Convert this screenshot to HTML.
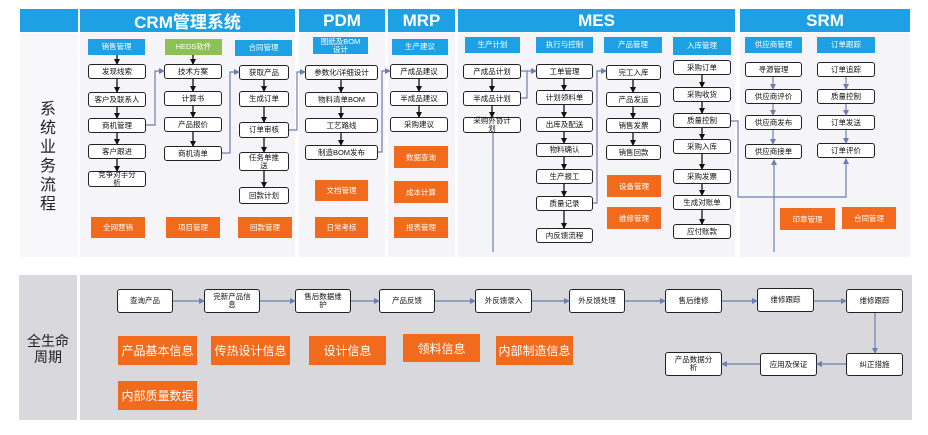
<!DOCTYPE html>
<html><head><meta charset="utf-8">
<style>
*{margin:0;padding:0;box-sizing:border-box}
body{width:928px;height:435px;background:#fff;position:relative;overflow:hidden;font-family:"Liberation Sans","Noto Sans CJK SC",sans-serif}
div{position:absolute}
.hd{background:#1da1e4;color:#fff;font-weight:bold;font-size:17px;display:flex;align-items:center;justify-content:center;top:9px;height:23px}
.col{background:#f5f4f8;top:33px;height:224px}
.h{background:#1da1e4;color:#fff;font-size:7.5px;display:flex;align-items:center;justify-content:center;text-align:center;line-height:8px}
.b{background:#fff;border:1px solid #222;border-radius:3px;font-size:7.5px;display:flex;align-items:center;justify-content:center;text-align:center;line-height:8px;color:#111}
.o{background:#f26b1d;color:#fff;font-size:7.5px;display:flex;align-items:center;justify-content:center}
.o2{background:#f26b1d;color:#fff;font-size:12px;display:flex;align-items:center;justify-content:center}
.lab{font-size:15px;color:#222;text-align:center;line-height:18px}
svg{position:absolute;left:0;top:0}
</style></head><body>
<!-- top panel -->
<div style="left:20px;top:9px;width:58px;height:23px;background:#1da1e4"></div>
<div class="hd" style="left:80px;width:215px">CRM管理系统</div>
<div class="hd" style="left:299px;width:86px">PDM</div>
<div class="hd" style="left:388px;width:67px">MRP</div>
<div class="hd" style="left:458px;width:277px">MES</div>
<div class="hd" style="left:740px;width:170px">SRM</div>
<div class="col" style="left:20px;width:58px;background:#f8f8fa"></div>
<div class="col" style="left:80px;width:215px"></div>
<div class="col" style="left:299px;width:86px"></div>
<div class="col" style="left:388px;width:67px"></div>
<div class="col" style="left:458px;width:277px"></div>
<div class="col" style="left:740px;width:170px"></div>
<div class="lab" style="left:38px;top:100px;width:20px;font-size:16px;line-height:19px">系<br>统<br>业<br>务<br>流<br>程</div>

<!-- CRM -->
<div class="h" style="left:88px;top:39px;width:57px;height:16px">销售管理</div>
<div class="h" style="left:165px;top:39px;width:57px;height:16px;background:#8dc153">HEDS软件</div>
<div class="h" style="left:235px;top:40px;width:57px;height:16px">合同管理</div>
<div class="b" style="left:88px;top:64px;width:58px;height:15px">发现线索</div>
<div class="b" style="left:88px;top:92px;width:58px;height:15px">客户及联系人</div>
<div class="b" style="left:88px;top:118px;width:58px;height:15px">商机管理</div>
<div class="b" style="left:88px;top:144px;width:58px;height:15px">客户跟进</div>
<div class="b" style="left:88px;top:171px;width:58px;height:16px">竞争对手分<br>析</div>
<div class="b" style="left:164px;top:64px;width:58px;height:15px">技术方案</div>
<div class="b" style="left:164px;top:91px;width:58px;height:15px">计算书</div>
<div class="b" style="left:164px;top:117px;width:58px;height:15px">产品报价</div>
<div class="b" style="left:164px;top:146px;width:58px;height:15px">商机清单</div>
<div class="b" style="left:239px;top:65px;width:50px;height:15px">获取产品</div>
<div class="b" style="left:239px;top:91px;width:50px;height:16px">生成订单</div>
<div class="b" style="left:239px;top:122px;width:50px;height:16px">订单审核</div>
<div class="b" style="left:239px;top:152px;width:50px;height:19px">任务单推<br>送</div>
<div class="b" style="left:239px;top:187px;width:50px;height:17px">回款计划</div>
<div class="o" style="left:91px;top:217px;width:54px;height:21px">全网营销</div>
<div class="o" style="left:166px;top:217px;width:54px;height:21px">项目管理</div>
<div class="o" style="left:238px;top:217px;width:54px;height:21px">回款管理</div>

<!-- PDM -->
<div class="h" style="left:313px;top:37px;width:55px;height:17px">图纸及BOM<br>设计</div>
<div class="b" style="left:305px;top:65px;width:73px;height:15px">参数化/详细设计</div>
<div class="b" style="left:305px;top:92px;width:73px;height:15px">物料清单BOM</div>
<div class="b" style="left:305px;top:118px;width:73px;height:15px">工艺路线</div>
<div class="b" style="left:305px;top:145px;width:73px;height:15px">制造BOM发布</div>
<div class="o" style="left:315px;top:180px;width:53px;height:21px">文档管理</div>
<div class="o" style="left:315px;top:217px;width:53px;height:21px">日常考核</div>

<!-- MRP -->
<div class="h" style="left:392px;top:39px;width:56px;height:16px">生产建议</div>
<div class="b" style="left:390px;top:64px;width:58px;height:15px">产成品建议</div>
<div class="b" style="left:390px;top:91px;width:58px;height:15px">半成品建议</div>
<div class="b" style="left:390px;top:117px;width:58px;height:15px">采购建议</div>
<div class="o" style="left:394px;top:146px;width:54px;height:22px">数据查询</div>
<div class="o" style="left:394px;top:181px;width:54px;height:22px">成本计算</div>
<div class="o" style="left:394px;top:217px;width:54px;height:21px">报表管理</div>

<!-- MES -->
<div class="h" style="left:465px;top:37px;width:55px;height:16px">生产计划</div>
<div class="h" style="left:536px;top:37px;width:57px;height:16px">执行与控制</div>
<div class="h" style="left:604px;top:37px;width:58px;height:16px">产品管理</div>
<div class="h" style="left:673px;top:37px;width:58px;height:18px">入库管理</div>
<div class="b" style="left:463px;top:64px;width:58px;height:15px">产成品计划</div>
<div class="b" style="left:463px;top:91px;width:58px;height:15px">半成品计划</div>
<div class="b" style="left:463px;top:117px;width:58px;height:16px">采购外协计<br>划</div>
<div class="b" style="left:536px;top:64px;width:57px;height:15px">工单管理</div>
<div class="b" style="left:536px;top:90px;width:57px;height:15px">计划领料单</div>
<div class="b" style="left:536px;top:117px;width:57px;height:15px">出库及配送</div>
<div class="b" style="left:536px;top:143px;width:57px;height:14px">物料确认</div>
<div class="b" style="left:536px;top:169px;width:57px;height:15px">生产报工</div>
<div class="b" style="left:536px;top:196px;width:57px;height:15px">质量记录</div>
<div class="b" style="left:536px;top:228px;width:57px;height:15px">内反馈流程</div>
<div class="b" style="left:606px;top:65px;width:55px;height:15px">完工入库</div>
<div class="b" style="left:606px;top:92px;width:55px;height:15px">产品发运</div>
<div class="b" style="left:606px;top:118px;width:55px;height:15px">销售发票</div>
<div class="b" style="left:606px;top:145px;width:55px;height:15px">销售回款</div>
<div class="o" style="left:607px;top:175px;width:54px;height:22px">设备管理</div>
<div class="o" style="left:607px;top:207px;width:54px;height:22px">维修管理</div>
<div class="b" style="left:673px;top:60px;width:58px;height:15px">采购订单</div>
<div class="b" style="left:673px;top:87px;width:58px;height:15px">采购收货</div>
<div class="b" style="left:673px;top:113px;width:58px;height:15px">质量控制</div>
<div class="b" style="left:673px;top:139px;width:58px;height:15px">采购入库</div>
<div class="b" style="left:673px;top:169px;width:58px;height:15px">采购发票</div>
<div class="b" style="left:673px;top:195px;width:58px;height:15px">生成对账单</div>
<div class="b" style="left:673px;top:224px;width:58px;height:15px">应付账款</div>

<!-- SRM -->
<div class="h" style="left:745px;top:37px;width:57px;height:16px">供应商管理</div>
<div class="h" style="left:817px;top:37px;width:58px;height:16px">订单跟踪</div>
<div class="b" style="left:745px;top:62px;width:57px;height:15px">寻源管理</div>
<div class="b" style="left:745px;top:89px;width:57px;height:15px">供应商评价</div>
<div class="b" style="left:745px;top:115px;width:57px;height:15px">供应商发布</div>
<div class="b" style="left:745px;top:144px;width:57px;height:15px">供应商接单</div>
<div class="b" style="left:817px;top:62px;width:58px;height:15px">订单追踪</div>
<div class="b" style="left:817px;top:89px;width:58px;height:15px">质量控制</div>
<div class="b" style="left:817px;top:115px;width:58px;height:15px">订单发送</div>
<div class="b" style="left:817px;top:143px;width:58px;height:15px">订单评价</div>
<div class="o" style="left:780px;top:208px;width:55px;height:22px">印章管理</div>
<div class="o" style="left:842px;top:207px;width:54px;height:22px">合同管理</div>

<!-- bottom panel -->
<div style="left:19px;top:275px;width:58px;height:145px;background:#d9d8dc"></div>
<div style="left:80px;top:275px;width:832px;height:145px;background:#d9d8dc"></div>
<div class="lab" style="left:19px;top:333px;width:58px;font-size:14px;line-height:16px">全生命<br>周期</div>
<div class="b" style="left:117px;top:289px;width:56px;height:24px">查询产品</div>
<div class="b" style="left:204px;top:289px;width:56px;height:24px">完新产品信<br>息</div>
<div class="b" style="left:295px;top:289px;width:56px;height:24px">售后数据维<br>护</div>
<div class="b" style="left:379px;top:289px;width:56px;height:24px">产品反馈</div>
<div class="b" style="left:475px;top:289px;width:57px;height:24px">外反馈录入</div>
<div class="b" style="left:569px;top:289px;width:56px;height:24px">外反馈处理</div>
<div class="b" style="left:665px;top:289px;width:57px;height:24px">售后维修</div>
<div class="b" style="left:757px;top:288px;width:57px;height:24px">维修跟踪</div>
<div class="b" style="left:846px;top:289px;width:57px;height:24px">维修跟踪</div>
<div class="b" style="left:846px;top:353px;width:57px;height:23px">纠正措施</div>
<div class="b" style="left:760px;top:353px;width:57px;height:23px">应用及保证</div>
<div class="b" style="left:665px;top:352px;width:57px;height:24px">产品数据分<br>析</div>
<div class="o2" style="left:118px;top:336px;width:79px;height:29px">产品基本信息</div>
<div class="o2" style="left:211px;top:336px;width:79px;height:29px">传热设计信息</div>
<div class="o2" style="left:309px;top:336px;width:77px;height:29px">设计信息</div>
<div class="o2" style="left:403px;top:334px;width:77px;height:28px">领料信息</div>
<div class="o2" style="left:496px;top:336px;width:77px;height:29px">内部制造信息</div>
<div class="o2" style="left:118px;top:381px;width:79px;height:29px">内部质量数据</div>

<svg width="928" height="435" viewBox="0 0 928 435">
<defs>
<marker id="k" markerWidth="6" markerHeight="6" refX="5" refY="3" orient="auto" markerUnits="userSpaceOnUse"><path d="M0,0L6,3L0,6z" fill="#111"/></marker>
<marker id="g" markerWidth="6" markerHeight="6" refX="5" refY="3" orient="auto" markerUnits="userSpaceOnUse"><path d="M0,0L6,3L0,6z" fill="#6d7fb0"/></marker>
</defs>
<g stroke="#111" stroke-width="1.3" fill="none" marker-end="url(#k)">
<line x1="117" y1="55" x2="117" y2="64"/><line x1="117" y1="79" x2="117" y2="92"/><line x1="117" y1="107" x2="117" y2="118"/><line x1="117" y1="133" x2="117" y2="144"/><line x1="117" y1="159" x2="117" y2="171"/>
<line x1="193" y1="55" x2="193" y2="64"/><line x1="193" y1="79" x2="193" y2="91"/><line x1="193" y1="106" x2="193" y2="117"/><line x1="193" y1="132" x2="193" y2="146"/>
<line x1="264" y1="80" x2="264" y2="91"/><line x1="264" y1="107" x2="264" y2="122"/><line x1="264" y1="138" x2="264" y2="152"/><line x1="264" y1="171" x2="264" y2="187"/>
<line x1="341" y1="80" x2="341" y2="92"/><line x1="341" y1="107" x2="341" y2="118"/><line x1="341" y1="133" x2="341" y2="145"/>
<line x1="419" y1="79" x2="419" y2="91"/><line x1="419" y1="106" x2="419" y2="117"/>
<line x1="492" y1="79" x2="492" y2="91"/><line x1="492" y1="106" x2="492" y2="117"/>
<line x1="564" y1="79" x2="564" y2="90"/><line x1="564" y1="105" x2="564" y2="117"/><line x1="564" y1="132" x2="564" y2="143"/><line x1="564" y1="157" x2="564" y2="169"/><line x1="564" y1="184" x2="564" y2="196"/><line x1="564" y1="211" x2="564" y2="228"/>
<line x1="633" y1="80" x2="633" y2="92"/><line x1="633" y1="107" x2="633" y2="118"/><line x1="633" y1="133" x2="633" y2="145"/>
<line x1="702" y1="75" x2="702" y2="87"/><line x1="702" y1="102" x2="702" y2="113"/><line x1="702" y1="128" x2="702" y2="139"/><line x1="702" y1="154" x2="702" y2="169"/><line x1="702" y1="184" x2="702" y2="195"/><line x1="702" y1="210" x2="702" y2="224"/>
</g>
<g stroke="#6d7fb0" stroke-width="1.2" fill="none">
<line x1="773" y1="77" x2="773" y2="89" marker-end="url(#g)"/><line x1="773" y1="104" x2="773" y2="115" marker-end="url(#g)"/><line x1="773" y1="130" x2="773" y2="144" marker-end="url(#g)"/>
<line x1="846" y1="77" x2="846" y2="89" marker-end="url(#g)"/><line x1="846" y1="104" x2="846" y2="115" marker-end="url(#g)"/><line x1="846" y1="130" x2="846" y2="143" marker-end="url(#g)"/>
<polyline points="146,125 155,125 155,71 164,71" marker-end="url(#g)"/>
<polyline points="222,153 230,153 230,72 239,72" marker-end="url(#g)"/>
<polyline points="289,130 297,130 297,72 305,72" marker-end="url(#g)"/>
<polyline points="378,152 382,152 382,71 390,71" marker-end="url(#g)"/>
<polyline points="521,71 536,71" marker-end="url(#g)"/>
<polyline points="521,98 527,98 527,71"/>
<polyline points="593,203 597,203 597,71 606,71" marker-end="url(#g)"/>
<polyline points="731,121 738,121 738,197 846,197 846,159" marker-end="url(#g)"/>
<line x1="493" y1="133" x2="493" y2="252"/>
<line x1="774" y1="252" x2="774" y2="160" marker-end="url(#g)"/>
<line x1="173" y1="301" x2="204" y2="301" marker-end="url(#g)"/>
<line x1="260" y1="301" x2="295" y2="301" marker-end="url(#g)"/>
<line x1="351" y1="301" x2="379" y2="301" marker-end="url(#g)"/>
<line x1="435" y1="301" x2="475" y2="301" marker-end="url(#g)"/>
<line x1="532" y1="301" x2="569" y2="301" marker-end="url(#g)"/>
<line x1="625" y1="301" x2="665" y2="301" marker-end="url(#g)"/>
<line x1="722" y1="301" x2="757" y2="301" marker-end="url(#g)"/>
<line x1="814" y1="301" x2="846" y2="301" marker-end="url(#g)"/>
<line x1="875" y1="313" x2="875" y2="353" marker-end="url(#g)"/>
<line x1="846" y1="364" x2="817" y2="364" marker-end="url(#g)"/>
<line x1="760" y1="364" x2="722" y2="364" marker-end="url(#g)"/>
</g>
</svg>
</body></html>
